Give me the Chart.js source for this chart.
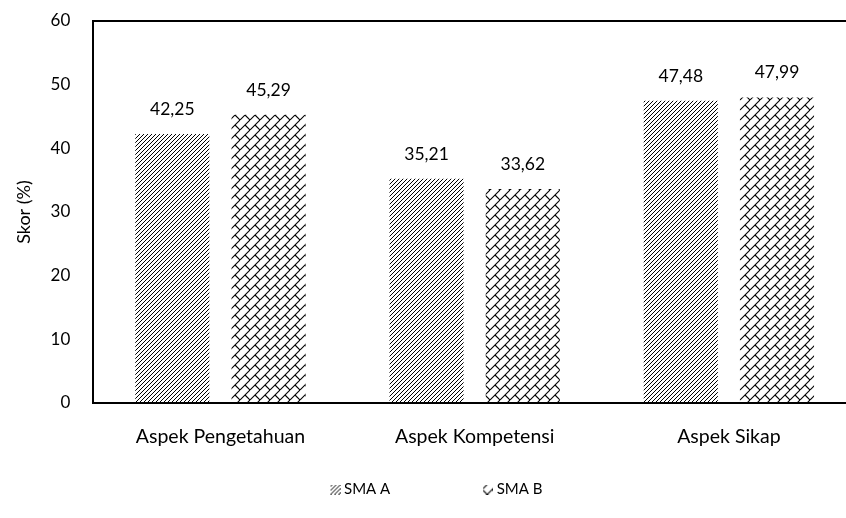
<!DOCTYPE html>
<html>
<head>
<meta charset="utf-8">
<script src="https://cdn.jsdelivr.net/npm/chart.js@4.4.1/dist/chart.umd.min.js"></script>
<style>
html,body{margin:0;padding:0;background:#fff;overflow:hidden;}
#view{width:846px;height:518px;position:relative;overflow:hidden;}
#wrap{width:906px;height:518px;position:absolute;left:-50px;top:0;}
</style>
</head>
<body>
<div id="view"><div id="wrap"><canvas id="c"></canvas></div></div>
<script>
const categories = ["Aspek Pengetahuan", "Aspek Kompetensi", "Aspek Sikap"];
const seriesNames = ["SMA A", "SMA B"];
const smaA = [42.25, 35.21, 47.48];
const smaB = [45.29, 33.62, 47.99];
const yTicks = [0, 10, 20, 30, 40, 50, 60];
const yTitle = "Skor (%)";

const FONT = "Lato, 'Liberation Sans', sans-serif";
const LEG_W = 68;   // legend box slot width (spacing between legend items)

function hatchTile() {
  const t = 4;
  const c = document.createElement('canvas');
  c.width = t; c.height = t;
  const g = c.getContext('2d');
  g.fillStyle = '#fff'; g.fillRect(0,0,t,t);
  g.strokeStyle = '#000'; g.lineWidth = 1.0;
  for (let k = -1; k <= 1; k++) {
    g.beginPath(); g.moveTo(k*t, t); g.lineTo(k*t + t, 0); g.stroke();
  }
  return c;
}
function brickTile() {
  const t = 10;
  const c = document.createElement('canvas');
  c.width = t; c.height = t;
  const g = c.getContext('2d');
  g.fillStyle = '#fff'; g.fillRect(0,0,t,t);
  g.strokeStyle = '#000'; g.lineWidth = 1.1;
  for (let k = -1; k <= 1; k++) {
    g.beginPath(); g.moveTo(k*t, t); g.lineTo(k*t + t, 0); g.stroke();
  }
  for (let dx = -t; dx <= t; dx += t) {
    for (let dy = -t; dy <= t; dy += t) {
      g.beginPath(); g.moveTo(t/2 + dx, t/2 + dy); g.lineTo(t + dx, t + dy); g.stroke();
    }
  }
  return c;
}
const tileA = hatchTile(), tileB = brickTile();
const chartCanvas = document.getElementById('c');
const cctx = chartCanvas.getContext('2d');
const patA = cctx.createPattern(tileA, 'repeat');
const patB = cctx.createPattern(tileB, 'repeat');

function legendSwatch(tile) {
  const c = document.createElement('canvas');
  c.width = LEG_W + 8; c.height = 10;
  const g = c.getContext('2d');
  g.fillStyle = g.createPattern(tile, 'repeat');
  g.fillRect(LEG_W - 2, 0, 10, 10);
  return c;
}
const swatches = [legendSwatch(tileA), legendSwatch(tileB)];

const fmt = v => v.toFixed(2).replace('.', ',');

const labelPlugin = {
  id: 'valueLabels',
  afterDatasetsDraw(chart) {
    const ctx = chart.ctx;
    ctx.save();
    ctx.font = "17.5px " + FONT;
    ctx.fillStyle = '#000';
    ctx.textAlign = 'center';
    ctx.textBaseline = 'alphabetic';
    chart.data.datasets.forEach((ds, i) => {
      chart.getDatasetMeta(i).data.forEach((bar, j) => {
        ctx.fillText(fmt(ds.data[j]), bar.x, bar.y - 19);
      });
    });
    ctx.restore();
  }
};

new Chart(chartCanvas, {
  type: 'bar',
  data: {
    labels: categories,
    datasets: [
      { label: seriesNames[0], data: smaA, backgroundColor: patA, borderWidth: 0 },
      { label: seriesNames[1], data: smaB, backgroundColor: patB, borderWidth: 0 }
    ]
  },
  options: {
    responsive: true,
    maintainAspectRatio: false,
    animation: false,
    devicePixelRatio: 1,
    categoryPercentage: 0.757,
    barPercentage: 0.77,
    layout: { padding: { left: 5, top: 21, right: 0, bottom: 11 } },
    plugins: {
      legend: {
        position: 'bottom',
        labels: {
          font: { size: 15, family: FONT },
          color: '#000',
          usePointStyle: true,
          pointStyleWidth: LEG_W,
          boxWidth: 10,
          boxHeight: 10,
          padding: 31,
          generateLabels(chart) {
            return chart.data.datasets.map((ds, i) => ({
              text: ds.label, fillStyle: ds.backgroundColor, strokeStyle: 'transparent',
              pointStyle: swatches[i], lineWidth: 0, datasetIndex: i, hidden: false
            }));
          }
        }
      },
      tooltip: { enabled: false }
    },
    scales: {
      x: {
        grid: { display: false, drawTicks: false },
        border: { display: true, color: '#000', width: 2 },
        ticks: { font: { size: 19.5, family: FONT }, color: '#000', padding: 22 },
        afterFit(scale) { scale.height = 48; }
      },
      y: {
        min: 0, max: 60,
        afterBuildTicks(scale) { scale.ticks = yTicks.map(v => ({ value: v })); },
        grid: {
          drawTicks: true,
          tickLength: 21,
          tickColor: 'rgba(0,0,0,0)',
          color: ctx => (ctx.tick && ctx.tick.value === 60) ? '#000' : 'rgba(0,0,0,0)',
          lineWidth: 2
        },
        border: { display: true, color: '#000', width: 2 },
        ticks: { font: { size: 17, family: FONT }, color: '#000', padding: 2 },
        title: { display: true, text: yTitle, font: { size: 18, family: FONT }, color: '#000', padding: { top: 58, bottom: 14 } }
      }
    }
  },
  plugins: [labelPlugin]
});
</script>
</body>
</html>
